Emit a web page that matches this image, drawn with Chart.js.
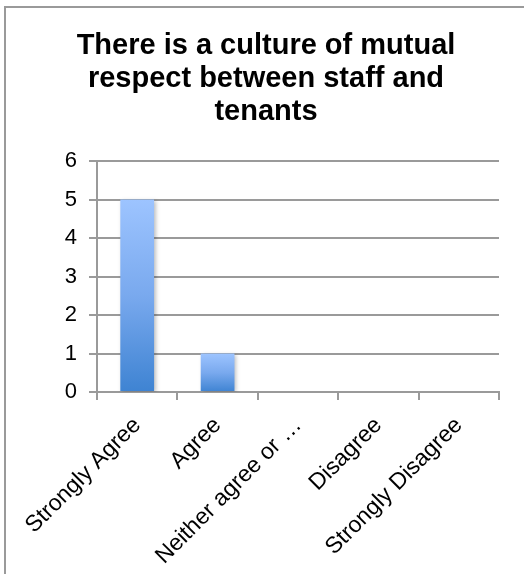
<!DOCTYPE html>
<html>
<head>
<meta charset="utf-8">
<script src="https://cdn.jsdelivr.net/npm/chart.js@4/dist/chart.umd.min.js"></script>
<style>
    body { margin: 0; background: #fff; }
    #frame {
        position: absolute; left: 4px; top: 6px; width: 600px; height: 600px;
        border-left: 2px solid #9a9a9a; border-top: 2px solid #9a9a9a;
    }
    #chart { position: absolute; left: 0; top: 0; }
</style>
</head>
<body>
<div id="frame"></div>
<canvas id="chart" width="524" height="574"></canvas>
<script>
// Data Arrays
const answers = ['Strongly Agree', 'Agree', 'Neither agree or \u2026', 'Disagree', 'Strongly Disagree']
const responses = [5, 1, 0, 0, 0]
const titleLines = ['There is a culture of mutual', 'respect between staff and', 'tenants']

const fontFamily = "'Liberation Sans', Arial, sans-serif"

// Light blue at the top of each bar fading to darker blue at the base
function barGradient(context) {
    let chart = context.chart
    if (!chart.chartArea) return '#7aaaf0'
    let y = chart.scales.y
    let top = y.getPixelForValue(context.raw)
    let base = y.getPixelForValue(0)
    if (base - top < 1) return '#7aaaf0'
    let grad = chart.ctx.createLinearGradient(0, top, 0, base)
    grad.addColorStop(0, '#9dc4ff')
    grad.addColorStop(0.5, '#79a9ee')
    grad.addColorStop(1, '#3e83d2')
    return grad
}

// Soft drop shadow behind the bars
const barShadow = {
    id: 'barShadow',
    beforeDatasetsDraw(chart) {
        let ctx = chart.ctx
        ctx.save()
        ctx.shadowColor = 'rgba(0, 0, 0, 0.25)'
        ctx.shadowBlur = 4
        ctx.shadowOffsetX = 2
        ctx.shadowOffsetY = 1
    },
    afterDatasetsDraw(chart) {
        chart.ctx.restore()
    }
}

function makeChart() {
    window.surveyChart = new Chart('chart', {
        type: 'bar',
        data: {
            labels: answers,
            datasets: [{
                label: 'Responses',
                data: responses,
                backgroundColor: barGradient,
                borderWidth: 0,
                categoryPercentage: 1,
                barPercentage: 0.42
            }]
        },
        options: {
            responsive: false,
            animation: false,
            layout: {
                padding: { left: 33, right: 25, top: 17, bottom: 0 }
            },
            scales: {
                y: {
                    min: 0,
                    max: 6,
                    ticks: {
                        stepSize: 1,
                        color: '#000',
                        padding: 12,
                        font: { family: fontFamily, size: 22 }
                    },
                    grid: {
                        color: '#9a9a9a',
                        lineWidth: 2,
                        tickLength: 8
                    },
                    border: { color: '#9a9a9a', width: 2 },
                    afterFit(scale) { scale.width = 64 }
                },
                x: {
                    ticks: {
                        color: '#000',
                        minRotation: 45,
                        maxRotation: 45,
                        autoSkip: false,
                        padding: 12,
                        font: { family: fontFamily, size: 23 }
                    },
                    grid: {
                        offset: true,
                        drawOnChartArea: false,
                        color: '#9a9a9a',
                        lineWidth: 2,
                        tickLength: 8
                    },
                    border: { color: '#9a9a9a', width: 2 },
                    afterFit(scale) { scale.height = 182 }
                }
            },
            plugins: {
                legend: { display: false },
                tooltip: { enabled: false },
                title: {
                    display: true,
                    text: titleLines,
                    color: '#000',
                    font: { family: fontFamily, size: 29, weight: 'bold', lineHeight: 1.15 },
                    padding: { top: 12, bottom: 32 }
                }
            }
        },
        plugins: [barShadow]
    })
}

makeChart()
</script>
</body>
</html>
